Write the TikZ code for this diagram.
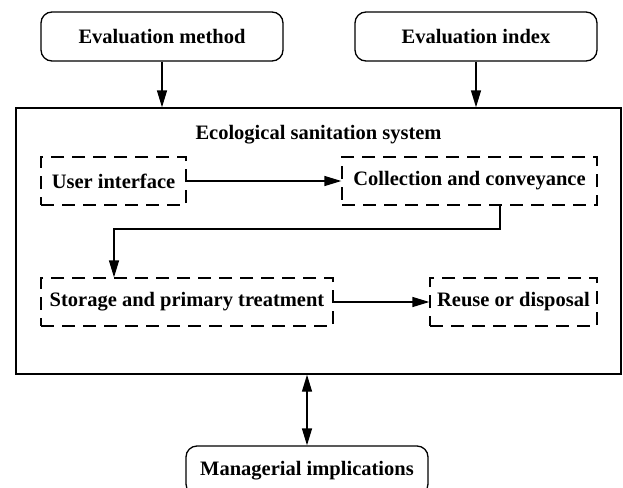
\documentclass[tikz,border=0pt]{standalone}
\usepackage{fontspec}
\setmainfont{Liberation Serif}
\usetikzlibrary{arrows.meta}
\tikzset{
  lbl/.style={font=\fontsize{20.5}{24}\selectfont\bfseries, inner sep=0pt},
  roundbox/.style={lbl, draw, line width=1.3pt, rounded corners=11pt, minimum height=49pt},
  dashbox/.style={lbl, draw, line width=1.3pt, dash pattern=on 13pt off 8pt, minimum height=48pt},
  mainbox/.style={draw, line width=1.4pt, minimum width=605pt, minimum height=266pt, inner sep=0pt},
  arr/.style={line width=1.4pt, -{Triangle[length=17pt,width=10pt]}},
  dbl/.style={line width=1.4pt, {Triangle[length=17pt,width=10pt]}-{Triangle[length=17pt,width=10pt]}}
}
\begin{document}
\begin{tikzpicture}[x=1pt,y=-1pt]
\useasboundingbox (0,0) rectangle (623,487);
\node[roundbox, minimum width=242pt] (meth) at (162,36.5) {Evaluation method};
\node[roundbox, minimum width=242pt] (idx) at (476,36.5) {Evaluation index};
\node[mainbox] (main) at (318.5,241) {};
\node[lbl] (title) at (318.5,135) {Ecological sanitation system};
\node[dashbox, minimum width=145pt] (ui) at (113.5,181) {User interface};
\node[dashbox, minimum width=255pt] (coll) at (469.5,181) {Collection and conveyance};
\node[dashbox, minimum width=292pt] (stor) at (187,302) {Storage and primary treatment};
\node[dashbox, minimum width=167pt] (reuse) at (513.5,302) {Reuse or disposal};
\node[roundbox, minimum width=242pt] (mgr) at (307,470.5) {Managerial implications};
\coordinate (bend) at (500,229);
\coordinate (sx) at (114,0);
\draw[arr] (meth.south) -- (meth.south |- main.north);
\draw[arr] (idx.south) -- (idx.south |- main.north);
\draw[arr] (ui.east) -- (coll.west);
\draw[arr] (coll.south -| bend) -- (bend) -| (stor.north -| sx);
\draw[arr] (stor.east) -- (reuse.west);
\draw[dbl] (main.south -| mgr.north) -- (mgr.north);
\end{tikzpicture}
\end{document}
